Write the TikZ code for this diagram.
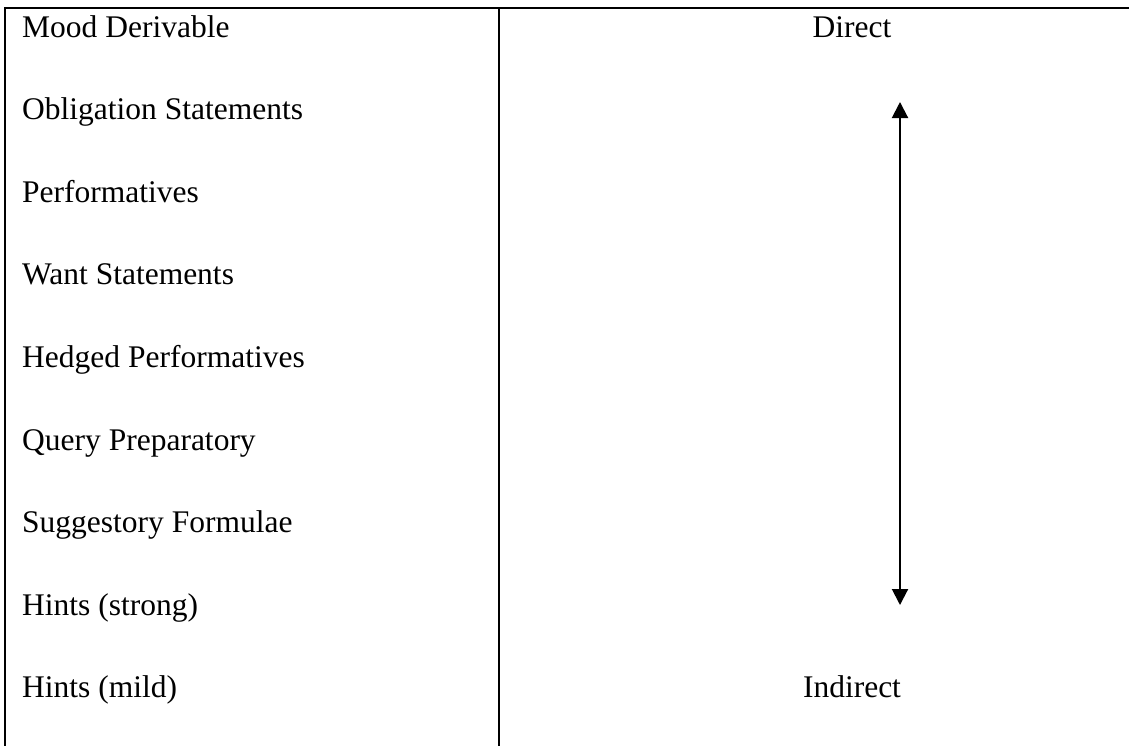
\documentclass[tikz,border=0pt]{standalone}
\usepackage{fontspec}
\setmainfont{Liberation Serif}
\usetikzlibrary{arrows.meta}
\tikzset{
	rowtext/.style={anchor=base west, inner sep=0pt, font=\fontsize{31.5}{38}\selectfont},
	endtext/.style={anchor=base, inner sep=0pt, font=\fontsize{31.5}{38}\selectfont},
	rule/.style={line width=2.2pt, line cap=rect}
}
\begin{document}
\begin{tikzpicture}[x=1pt, y=-1pt]
			%%%%% START %%%%%
			\useasboundingbox (0, 0) rectangle (1129, 745);
			
			\draw[rule] (5, 8) -- (1129, 8);
			\draw[rule] (5, 8) -- (5, 745);
			\draw[rule] (499, 8) -- (499, 745);
			
			\node[rowtext] (mood) at (22, 37) {Mood Derivable};
			\node[rowtext] (oblig) at (22, 119.6) {Obligation Statements};
			\node[rowtext] (perf) at (22, 202.2) {Performatives};
			\node[rowtext] (want) at (22, 284.8) {Want Statements};
			\node[rowtext] (hedged) at (22, 367.4) {Hedged Performatives};
			\node[rowtext] (query) at (22, 450) {Query Preparatory};
			\node[rowtext] (sugg) at (22, 532.6) {Suggestory Formulae};
			\node[rowtext] (strong) at (22, 615.2) {Hints (strong)};
			\node[rowtext] (mild) at (22, 697.8) {Hints (mild)};
			
			\node[endtext] (direct) at (852, 37) {Direct};
			\node[endtext] (indirect) at (852, 697.8) {Indirect};
			
			\coordinate (top) at (900, 102);
			\coordinate (bottom) at (900, 605);
			\draw[line width=2pt, {Triangle[width=16pt,length=16pt]}-{Triangle[width=16pt,length=16pt]}] (top) -- (bottom);
			
			%%%%% END %%%%%
\end{tikzpicture}
\end{document}
